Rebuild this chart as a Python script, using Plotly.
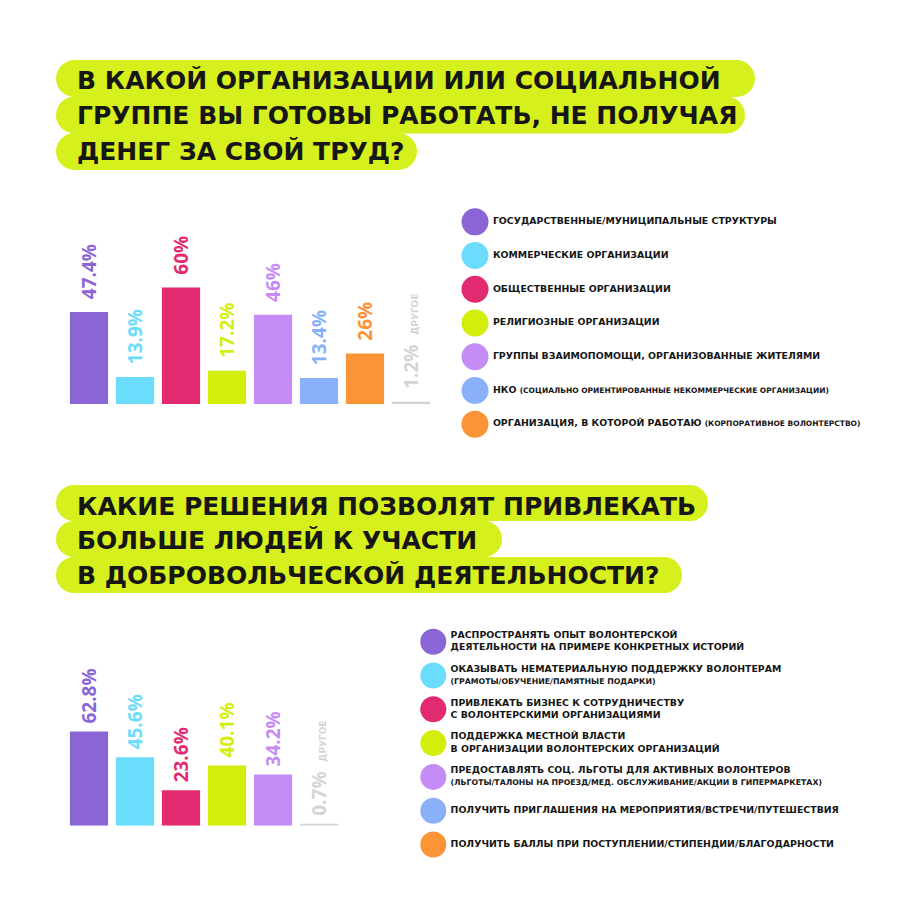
import plotly.graph_objects as go

# ---------------- data ----------------
q1_title = ["В КАКОЙ ОРГАНИЗАЦИИ ИЛИ СОЦИАЛЬНОЙ",
            "ГРУППЕ ВЫ ГОТОВЫ РАБОТАТЬ, НЕ ПОЛУЧАЯ",
            "ДЕНЕГ ЗА СВОЙ ТРУД?"]
q1_categories = ["ГОСУДАРСТВЕННЫЕ/МУНИЦИПАЛЬНЫЕ СТРУКТУРЫ",
                 "КОММЕРЧЕСКИЕ ОРГАНИЗАЦИИ",
                 "ОБЩЕСТВЕННЫЕ ОРГАНИЗАЦИИ",
                 "РЕЛИГИОЗНЫЕ ОРГАНИЗАЦИИ",
                 "ГРУППЫ ВЗАИМОПОМОЩИ, ОРГАНИЗОВАННЫЕ ЖИТЕЛЯМИ",
                 "НКО",
                 "ОРГАНИЗАЦИЯ, В КОТОРОЙ РАБОТАЮ",
                 "ДРУГОЕ"]
q1_notes = ["", "", "", "", "", "(СОЦИАЛЬНО ОРИЕНТИРОВАННЫЕ НЕКОММЕРЧЕСКИЕ ОРГАНИЗАЦИИ)",
            "(КОРПОРАТИВНОЕ ВОЛОНТЕРСТВО)"]
q1_values = [47.4, 13.9, 60, 17.2, 46, 13.4, 26, 1.2]

q2_title = ["КАКИЕ РЕШЕНИЯ ПОЗВОЛЯТ ПРИВЛЕКАТЬ",
            "БОЛЬШЕ ЛЮДЕЙ К УЧАСТИ",
            "В ДОБРОВОЛЬЧЕСКОЙ ДЕЯТЕЛЬНОСТИ?"]
q2_categories = ["РАСПРОСТРАНЯТЬ ОПЫТ ВОЛОНТЕРСКОЙ<br>ДЕЯТЕЛЬНОСТИ НА ПРИМЕРЕ КОНКРЕТНЫХ ИСТОРИЙ",
                 "ОКАЗЫВАТЬ НЕМАТЕРИАЛЬНУЮ ПОДДЕРЖКУ ВОЛОНТЕРАМ",
                 "ПРИВЛЕКАТЬ БИЗНЕС К СОТРУДНИЧЕСТВУ<br>С ВОЛОНТЕРСКИМИ ОРГАНИЗАЦИЯМИ",
                 "ПОДДЕРЖКА МЕСТНОЙ ВЛАСТИ<br>В ОРГАНИЗАЦИИ ВОЛОНТЕРСКИХ ОРГАНИЗАЦИЙ",
                 "ПРЕДОСТАВЛЯТЬ СОЦ. ЛЬГОТЫ ДЛЯ АКТИВНЫХ ВОЛОНТЕРОВ",
                 "ПОЛУЧИТЬ ПРИГЛАШЕНИЯ НА МЕРОПРИЯТИЯ/ВСТРЕЧИ/ПУТЕШЕСТВИЯ",
                 "ПОЛУЧИТЬ БАЛЛЫ ПРИ ПОСТУПЛЕНИИ/СТИПЕНДИИ/БЛАГОДАРНОСТИ"]
q2_notes = ["", "(ГРАМОТЫ/ОБУЧЕНИЕ/ПАМЯТНЫЕ ПОДАРКИ)", "", "",
            "(ЛЬГОТЫ/ТАЛОНЫ НА ПРОЕЗД/МЕД. ОБСЛУЖИВАНИЕ/АКЦИИ В ГИПЕРМАРКЕТАХ)", "", ""]
q2_bar_labels = ["A", "B", "C", "D", "E", "ДРУГОЕ"]
q2_values = [62.8, 45.6, 23.6, 40.1, 34.2, 0.7]

palette = ["#8A65D6", "#6BDCFB", "#E22A71", "#D4EE0C", "#C68CF6", "#8BB0FA", "#FB9436"]
other_color = "#D4D4D4"
q1_colors = palette + [other_color]
q2_colors = palette[:5] + [other_color]

PILL = "#D6F01E"
TXT = "#161616"

W = H = 900


def px(x):
    return x / W


def py(y):
    return 1 - y / H


fig = go.Figure()


def pct_label(v, other, pad):
    s = "\u00a0" * pad + f"{v:g}%"
    if other:
        s += "\u00a0\u00a0<span style='font-size:9px;font-family:DejaVu Sans'>ДРУГОЕ</span>"
    return s


# ---------------- bars ----------------
fig.add_trace(go.Bar(
    x=q1_categories, y=q1_values, marker=dict(color=q1_colors, line=dict(width=0)),
    width=0.83,
    text=[pct_label(v, c == "ДРУГОЕ", 2) for v, c in zip(q1_values, q1_categories)],
    textposition="outside", textangle=-90, constraintext="none", cliponaxis=False,
    textfont=dict(family="Open Sans", size=19, color=q1_colors, weight="bold"),
    xaxis="x", yaxis="y", hoverinfo="skip", showlegend=False))

fig.add_trace(go.Bar(
    x=q2_bar_labels, y=q2_values, marker=dict(color=q2_colors, line=dict(width=0)),
    width=0.83,
    text=[pct_label(v, c == "ДРУГОЕ", 1) for v, c in zip(q2_values, q2_bar_labels)],
    textposition="outside", textangle=-90, constraintext="none", cliponaxis=False,
    textfont=dict(family="Open Sans", size=19, color=q2_colors, weight="bold"),
    xaxis="x2", yaxis="y2", hoverinfo="skip", showlegend=False))


# ---------------- legends ----------------
def legend_text(name, note, note_size, inline):
    if not note:
        return name
    sep = " " if inline else "<br>"
    return f"{name}{sep}<span style='font-size:{note_size}px'>{note}</span>"


leg1 = [legend_text(n, t, 7.5, True) for n, t in zip(q1_categories[:7], q1_notes)]
fig.add_trace(go.Scatter(
    x=[0] * 7, y=list(range(7)), mode="markers+text",
    marker=dict(size=27, color=palette, line=dict(width=0)),
    text=leg1, textposition="middle right",
    textfont=dict(family="DejaVu Sans", size=9.4, color=TXT, weight="bold"),
    xaxis="x3", yaxis="y3", hoverinfo="skip", showlegend=False, cliponaxis=False))

leg2 = [legend_text(n, t, 7.8, False) for n, t in zip(q2_categories, q2_notes)]
fig.add_trace(go.Scatter(
    x=[0] * 7, y=list(range(7)), mode="markers+text",
    marker=dict(size=26, color=palette, line=dict(width=0)),
    text=leg2, textposition="middle right",
    textfont=dict(family="DejaVu Sans", size=9.4, color=TXT, weight="bold"),
    xaxis="x4", yaxis="y4", hoverinfo="skip", showlegend=False, cliponaxis=False))

hidden = dict(showgrid=False, zeroline=False, showticklabels=False, showline=False, ticks="")

# ---------------- titles (pill backgrounds) ----------------
shapes = []
annotations = []


def pill(x0, x1, yc, h):
    r = h / 2
    shapes.append(dict(type="rect", xref="paper", yref="paper", x0=px(x0 + r), x1=px(x1 - r),
                       y0=py(yc + r), y1=py(yc - r), fillcolor=PILL, line=dict(width=0), layer="below"))
    for cx in (x0 + r, x1 - r):
        shapes.append(dict(type="circle", xref="paper", yref="paper", x0=px(cx - r), x1=px(cx + r),
                           y0=py(yc + r), y1=py(yc - r), fillcolor=PILL, line=dict(width=0), layer="below"))


t1_pills = [(56, 755, 78.5), (56, 745, 115), (56, 417, 151.5)]
t1_text_y = [80.5, 116, 151.5]
for (a, b, c) in t1_pills:
    pill(a, b, c, 37)
t2_pills = [(56, 708, 503), (56, 502, 539), (56, 682, 575)]
t2_text_y = [506.5, 540.3, 575]
for (a, b, c) in t2_pills:
    pill(a, b, c, 36)

for lines, ys in ((q1_title, t1_text_y), (q2_title, t2_text_y)):
    for line, y in zip(lines, ys):
        annotations.append(dict(text=line, xref="paper", yref="paper", x=px(75), y=py(y),
                                xanchor="left", yanchor="middle", showarrow=False,
                                font=dict(family="DejaVu Sans", size=25, color=TXT, weight="bold")))

fig.update_layout(
    width=W, height=H, margin=dict(l=0, r=0, t=0, b=0),
    paper_bgcolor="white", plot_bgcolor="rgba(0,0,0,0)",
    bargap=0.17,
    xaxis=dict(domain=[px(66), px(434)], range=[-0.5, 7.5], type="category", **hidden),
    yaxis=dict(domain=[py(404), py(210)], range=[0, 100], **hidden),
    xaxis2=dict(domain=[px(66), px(342)], range=[-0.5, 5.5], type="category", **hidden),
    yaxis2=dict(domain=[py(825.7), py(675.7)], range=[0, 100], **hidden),
    xaxis3=dict(domain=[px(440), px(890)], range=[-35, 415], **hidden),
    yaxis3=dict(domain=[py(441), py(205)], range=[6.5, -0.5], **hidden),
    xaxis4=dict(domain=[px(410), px(890)], range=[-23.3, 456.7], **hidden),
    yaxis4=dict(domain=[py(861.4), py(624.8)], range=[6.5, -0.5], **hidden),
    shapes=shapes, annotations=annotations,
)

fig.write_html("out.html")
